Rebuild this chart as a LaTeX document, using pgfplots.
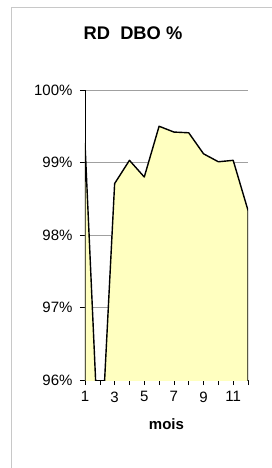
\documentclass[border=0pt]{standalone}
\usepackage{pgfplots}
\pgfplotsset{compat=1.18}
\usepackage{fontspec}
\setmainfont{Liberation Sans}
\definecolor{areafill}{HTML}{FFFFC0}
\definecolor{gridgray}{HTML}{A0A0A0}
\definecolor{framegray}{HTML}{C8C8C8}
\begin{document}
\begin{tikzpicture}
\useasboundingbox (0pt,0pt) rectangle (272pt,-468pt);
\draw[framegray, line width=1pt] (11pt,-468pt) -- (11pt,-8pt) -- (272pt,-8pt);
\node[font=\fontsize{18.3}{20}\selectfont\bfseries] at (133pt,-33pt) {RD\ \ DBO \%};
\begin{axis}[
  at={(85pt,-380pt)}, anchor=south west,
  scale only axis, width=163pt, height=290pt,
  xmin=1, xmax=12, ymin=96, ymax=100,
  axis x line=bottom, axis y line=left,
  axis line style={-, black, line width=0.8pt},
  xtick={1,3,5,7,9,11},
  minor xtick={2,4,6,8,10,12},
  ytick={96,97,98,99,100},
  xticklabels={1,3,5,7,9,11},
  yticklabels={96\%,97\%,98\%,99\%,100\%},
  tick align=outside,
  major tick length=5pt, minor tick length=5pt,
  tick style={black, line width=0.6pt},
  ymajorgrids, grid style={gridgray, line width=0.6pt},
  xticklabel style={font=\fontsize{15}{17}\selectfont, yshift=-3pt},
  yticklabel style={font=\fontsize{15}{17}\selectfont, xshift=-4pt},
  xlabel={\textbf{mois}},
  xlabel style={font=\fontsize{15}{17}\selectfont, yshift=-10pt},
  clip=true,
]
\addplot[fill=areafill, draw=none] coordinates {
(1,95) (1,99.26) (2,94.7) (3,98.71) (4,99.03) (5,98.80) (6,99.50)
(7,99.42) (8,99.41) (9,99.12) (10,99.01) (11,99.03) (12,98.34) (12,95)};
\addplot[black, line width=1.4pt, line join=round] coordinates {
(1,95) (1,99.26) (2,94.7) (3,98.71) (4,99.03) (5,98.80) (6,99.50)
(7,99.42) (8,99.41) (9,99.12) (10,99.01) (11,99.03) (12,98.34) (12,95)};
\end{axis}
\end{tikzpicture}
\end{document}
